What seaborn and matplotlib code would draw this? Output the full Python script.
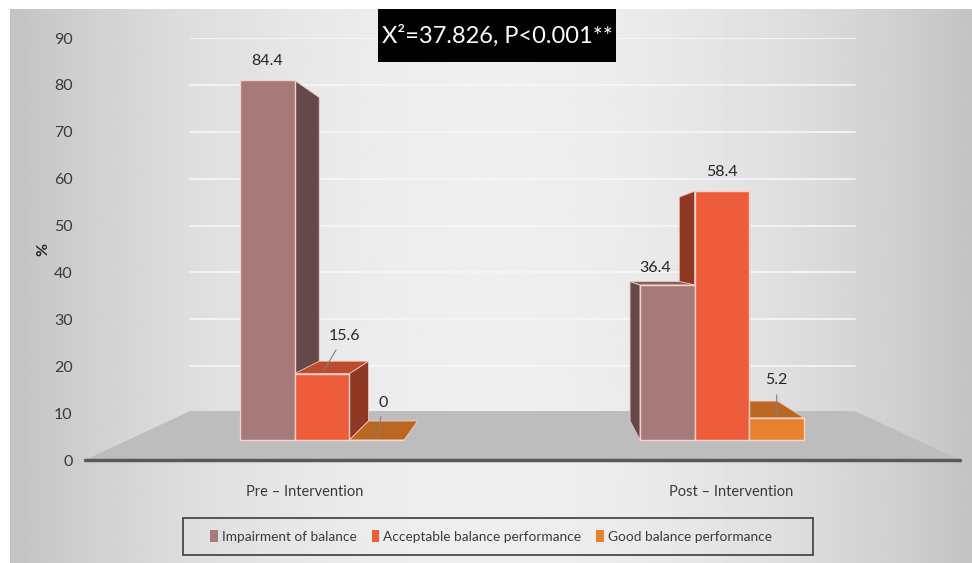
import numpy as np
import pandas as pd
import matplotlib
matplotlib.use('Agg')
import matplotlib.pyplot as plt
from matplotlib.patches import Polygon, Rectangle, Patch
import seaborn as sns

# data
phases = ['Pre – Intervention', 'Post – Intervention']
levels = ['Impairment of balance', 'Acceptable balance performance', 'Good balance performance']
pre_values = [84.4, 15.6, 0.0]
post_values = [36.4, 58.4, 5.2]
level_colors = ['#a67a7b', '#ee5d3b', '#e8812d']
y_ticks = list(range(0, 91, 10))
title_text = 'X²=37.826, P<0.001**'

df = pd.DataFrame({
    'phase': [phases[0]] * 3 + [phases[1]] * 3,
    'level': levels * 2,
    'value': pre_values + post_values,
})

sns.set_theme(style='white')
plt.rcParams['font.family'] = ['Lato', 'DejaVu Sans']

W, H = 972, 563
fig = plt.figure(figsize=(W / 100, H / 100), dpi=100)
fig.patch.set_facecolor('white')

# grey gradient backdrop (Excel chart area)
bg = fig.add_axes([10 / W, 0, 1 - 10 / W, (H - 9) / H])
xx = np.linspace(-1, 1, 400)
grad = 0.935 - 0.17 * xx ** 2
bg.imshow(np.tile(grad, (10, 1)), cmap='gray', vmin=0, vmax=1,
          aspect='auto', extent=(0, 1, 0, 1))
bg.set_axis_off()

# back wall: ticks, gridlines, floor
pos = [85 / W, (H - 460) / H, 875 / W, 422 / H]
ax = fig.add_axes(pos)
ax.set_facecolor('none')
ax.set_xlim(-0.514, 1.535)
ax.set_ylim(0, 90)
ax.set_yticks(y_ticks)
ax.set_xticks([0, 1], phases)
for t in y_ticks[1:]:
    ax.axhline(t, xmin=0.12, xmax=0.88, color='#f6f6f6', lw=1.2, zorder=0)
ax.add_patch(Polygon([(0, 0), (1, 0), (0.88, 0.116), (0.12, 0.116)],
                     closed=True, transform=ax.transAxes,
                     facecolor='#bdbdbd', edgecolor='none', zorder=1))
ax.axhline(0, color='#595959', lw=2.5, zorder=2, clip_on=False)
sns.despine(ax=ax, left=True, bottom=True)
ax.tick_params(axis='y', length=0, pad=9, labelsize=11.5, labelcolor='#3a3a3a')
ax.tick_params(axis='x', length=0, pad=18, labelsize=10.5, labelcolor='#3a3a3a')
ax.set_xlabel('')
ax.set_ylabel('%', fontsize=11.5, fontweight='bold', color='#262626')
ax.yaxis.set_label_coords(-0.04, 0.5)

# front plane: the bars
axb = fig.add_axes(pos)
axb.set_facecolor('none')
sns.barplot(data=df, x='phase', y='value', hue='level', order=phases,
            hue_order=levels, palette=level_colors, saturation=1, width=0.41,
            errorbar=None, legend=False, edgecolor='#f6d3c6', linewidth=1.0,
            zorder=3, ax=axb)
axb.set_xlim(-0.5926, 1.5949)
axb.set_ylim(-4.69, 94.37)
axb.set_axis_off()

# fake 3D depth: side/top faces projected toward a vanishing point
vp = np.array([540.0, H - 250.0])
k = 0.1
to_disp = axb.transData.transform
to_data = axb.transData.inverted().transform


def back(p):
    return p + k * (vp - p)


faces = []
for bar in axb.patches:
    x0, x1 = bar.get_x(), bar.get_x() + bar.get_width()
    h = bar.get_height()
    rgb = np.array(bar.get_facecolor()[:3])
    fl_b, fr_b, fr_t, fl_t = to_disp([(x0, 0), (x1, 0), (x1, h), (x0, h)])
    cx = (fl_b[0] + fr_b[0]) / 2
    if cx < vp[0]:
        side = [fr_t, fr_b, back(fr_b), back(fr_t)]
    else:
        side = [fl_t, fl_b, back(fl_b), back(fl_t)]
    polys = [(side, rgb * 0.6)]
    if fl_t[1] < vp[1]:
        polys.append(([fl_t, fr_t, back(fr_t), back(fl_t)], rgb * 0.8))
    faces.append((abs(cx - vp[0]), polys))

for _, polys in sorted(faces, key=lambda f: -f[0]):
    for pts, col in polys:
        axb.add_patch(Polygon(to_data(np.array(pts)), closed=True,
                              facecolor=col, edgecolor='#f0c8b8', lw=0.6,
                              zorder=2))

# value labels (patches come hue by hue, phase by phase)
label_offsets = [[(0, 14), (-9, 12)],
                 [(16, 27), (0, 14)],
                 [(5, 27), (0, 27)]]
leaders = [[False, False], [True, False], [True, True]]
for hi in range(len(levels)):
    for pi in range(len(phases)):
        bar = axb.patches[hi * len(phases) + pi]
        val = bar.get_height()
        cx = bar.get_x() + bar.get_width() / 2
        props = None
        if leaders[hi][pi]:
            props = dict(arrowstyle='-', color='#7f7f7f', lw=0.8,
                         shrinkA=3, shrinkB=2)
        axb.annotate(f'{val:g}', xy=(cx, val), xytext=label_offsets[hi][pi],
                     textcoords='offset points', ha='center', va='center',
                     fontsize=11.5, color='#262626', arrowprops=props,
                     zorder=5)

# legend with Excel-style box
handles = [Patch(facecolor=c, edgecolor='none') for c in level_colors]
fig.legend(handles, levels, loc='center left',
           bbox_to_anchor=(198 / W, (H - 536.5) / H), ncol=3, frameon=False,
           handlelength=0.55, handleheight=0.9, handletextpad=0.3,
           columnspacing=1.1, fontsize=9.8, labelcolor='#3a3a3a')
fig.add_artist(Rectangle((183 / W, (H - 555) / H), 630 / W, 37 / H,
                         transform=fig.transFigure, fill=False,
                         edgecolor='#3c3c3c', lw=1.2))

# chi-square title box
fig.add_artist(Rectangle((378 / W, (H - 62) / H), 238 / W, 53 / H,
                         transform=fig.transFigure, facecolor='black',
                         edgecolor='none'))
fig.text(497 / W, (H - 35.5) / H, title_text, color='white', fontsize=17,
         ha='center', va='center')

fig.savefig('out.png', dpi=100)
plt.close(fig)
